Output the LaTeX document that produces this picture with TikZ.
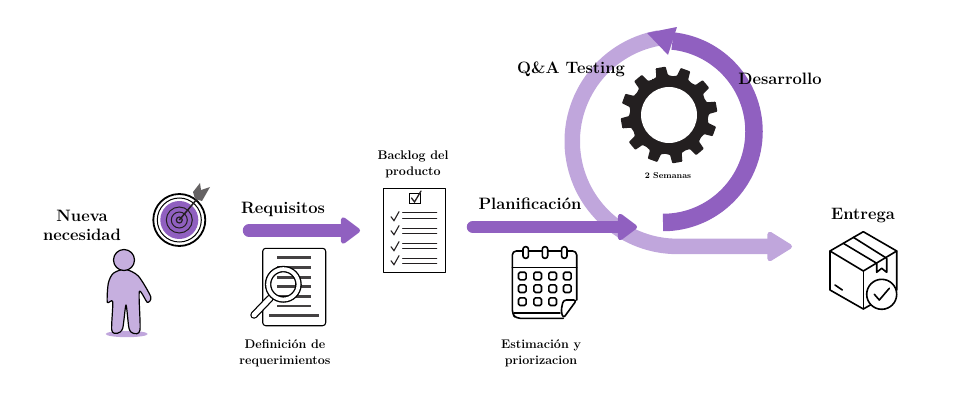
\documentclass[tikz,border=0pt]{standalone}
\usepackage{fontspec}
\usepackage{xcolor}
\usetikzlibrary{arrows.meta}
\definecolor{softpurple}{HTML}{9060C0}
\definecolor{softlilac}{HTML}{C0A6DC}
\definecolor{softink}{HTML}{231F20}

\begin{document}
\begin{tikzpicture}[
  x=1pt, y=-1pt,
  big/.style={font=\bfseries\fontsize{16.5}{19}\selectfont\addfontfeature{LetterSpace=5}, align=center, inner sep=0pt, text=black},
  small/.style={font=\bfseries\fontsize{12.5}{16}\selectfont\addfontfeature{LetterSpace=6}, align=center, inner sep=0pt, text=black},
  flow/.style={line width=12.5pt, line cap=round, softpurple,
               -{Triangle[round, line width=5pt, length=21pt, width=30pt]}},
  ret/.style={line width=15.5pt, softlilac},
  icon/.style={draw=black, line width=1.6pt, line join=round, line cap=round},
  thin/.style={draw=softink, line width=1.4pt, line cap=round}
]
  \useasboundingbox (0,0) rectangle (960,403);

  % spiral
  \coordinate (backtop) at (659,38);
  \coordinate (backend) at (792,246.5);
  \coordinate (devstart) at (663,222.5);
  \draw[ret, -{Triangle[round, line width=5pt, length=27pt, width=32pt]}]
    (backtop) arc[start angle=-100, end angle=-270, radius=105] -- (backend);
  \draw[line width=17.5pt, softpurple] (devstart) arc[start angle=90, end angle=-84, radius=91];
  \fill[softpurple, rounded corners=0.5pt] (647,33) -- (677,27) -- (668,55) -- cycle;

  % flow arrows
  \coordinate (reqstart) at (249,230.5);
  \coordinate (reqend) at (360,230.5);
  \coordinate (planstart) at (473,227);
  \coordinate (planend) at (637,227);
  \draw[flow] (reqstart) -- (reqend);
  \draw[flow] (planstart) -- (planend);

  % gear
  \begin{scope}[shift={(669,115)}]
    \fill[softink, rounded corners=0.8pt] (-115:39)
      \foreach \a in {-100,-70,...,230} {
        -- (\a-8.5:40) -- (\a-6:48.5) -- (\a+6:48.5) -- (\a+8.5:40) -- (\a+15:39)
      } -- cycle;
    \fill[white] (0,0) circle[radius=28];
  \end{scope}

  % person
  \fill[softlilac] (126.7,334) ellipse[x radius=21, y radius=3.2];
  \draw[icon, fill=softlilac!90!white, line width=1.2pt] plot[smooth cycle, tension=0.45] coordinates {
    (125,269.3) (138.3,276) (150.7,296.7) (147.3,302.3) (139.3,291.7) (140,330) (133.3,333.3)
    (129,328.3) (126,305) (122.7,328.3) (117.3,333.3) (111.7,330) (112.7,301.7) (107.3,302.3)
    (108.3,283.3) (113.3,273.3)};
  \draw[icon, fill=softlilac!90!white, line width=1.2pt] (124,260) circle[radius=10.5];

  % target
  \fill[softpurple] (179.3,220) circle[radius=19];
  \draw[line width=1.8pt] (179.3,220) circle[radius=26];
  \draw[line width=1pt] (179.3,220) circle[radius=22];
  \foreach \r in {13,8} \draw[line width=1pt, softink] (179.3,220) circle[radius=\r];
  \draw[line width=1.2pt, softink] (179.3,220) circle[radius=3];
  \draw[line width=1.5pt, softink] (179.3,220) -- (197,199);
  \fill[softink!70!white] (195,199) -- (193,192) -- (200,183) -- (201,190) -- (210,187) -- (206,194) -- (202,201) -- cycle;

  % document and magnifier
  \draw[icon, line width=1.1pt, rounded corners=3pt] (262.7,248.3) rectangle (325.7,325.7);
  \foreach \y in {257.7,267.7,277.3,286.7,296.3,306}
    \draw[softink!85!white, line width=2.6pt] (277.3,\y) -- (311,\y);
  \draw[softink!85!white, line width=2.6pt] (269.3,315.7) -- (319,315.7);
  \draw[line width=7.5pt, line cap=round] (270,298.3) -- (254,315);
  \draw[line width=5pt, line cap=round, white] (270,298.3) -- (254,315);
  \draw[line width=6.5pt] (283.3,284.3) circle[radius=15.2];
  \draw[line width=3.8pt, white] (283.3,284.3) circle[radius=15.2];

  % checklist
  \draw[icon, line width=1.2pt, line cap=butt] (383.3,188.3) rectangle (445.7,272.3);
  \draw[line width=1pt] (409,194) rectangle (420,203.3);
  \draw[thin, line width=1.3pt] (411.5,198) -- (414.5,202) -- (421,191);
  \foreach \y/\c in {212.7/216.7,228.3/230.7,243.3/246.7,258.3/260.7} {
    \draw[thin, line width=1.1pt] (402.7,\y) -- (436.7,\y);
    \draw[thin, line width=1.1pt] (402.7,\y+5.5) -- (436.7,\y+5.5);
    \draw[thin, line width=1.1pt] (391,\c) -- (394,\c+4) -- (399,\c-5);
  }

  % calendar
  \draw[icon, rounded corners=4pt] (563.3,318.3) -- (516,318.3) -- (512.3,314) -- (512.3,251) -- (576.7,251) -- (576.7,300);
  \draw[icon] (512.3,267.3) -- (576.7,267.3);
  \draw[icon] (514,312.7) -- (560,312.7);
  \draw[icon, rounded corners=3pt] (576.7,300) -- (563.3,300) -- (561,311) -- (563.3,318.3) -- cycle;
  \foreach \x in {525.7,545,564.3}
    \draw[icon, fill=white, rounded corners=2.4pt] (\x-2.7,246.7) rectangle (\x+2.7,258.3);
  \foreach \x in {522.3,537.7,552.7,567.3} \foreach \y in {276,288.7}
    \draw[icon, rounded corners=1.5pt] (\x-3.8,\y-3.8) rectangle (\x+3.8,\y+3.8);
  \foreach \x in {522.3,537.7,552.7}
    \draw[icon, rounded corners=1.5pt] (\x-3.8,297.9) rectangle (\x+3.8,305.5);

  % parcel
  \draw[icon] (863.3,231.7) -- (830,251) -- (830,290) -- (863.3,309) -- (896.7,290) -- (896.7,251) -- cycle;
  \draw[icon] (830,251) -- (863.3,271) -- (896.7,251);
  \draw[icon] (863.3,271) -- (863.3,309);
  \draw[icon] (843.3,243.3) -- (876.7,263.3) -- (876.7,272.3) -- (881.7,268.3) -- (886.7,272.3) -- (886.7,258.3) -- (853.3,237.3);
  \draw[icon] (835,285) -- (842.3,290);
  \draw[icon, fill=white] (881.7,294.3) circle[radius=15];
  \draw[icon] (874.3,294.3) -- (879.3,300) -- (889.3,288.3);

  % labels
  \node[big] (need) at (82,225.5) {Nueva\\necesidad};
  \node[big] (req) at (283,209) {Requisitos};
  \node[small] (def) at (285,353.5) {Definición de\\requerimientos};
  \node[small] (backlog) at (413,164) {Backlog del\\producto};
  \node[big] (plan) at (530,204) {Planificación};
  \node[small] (est) at (541,353) {Estimación y\\priorizacion};
  \node[big] (qa) at (571,69) {Q\&A Testing};
  \node[big] (dev) at (780,79) {Desarrollo};
  \node[font=\bfseries\fontsize{8.5}{10}\selectfont\addfontfeature{LetterSpace=6}, inner sep=0pt] (weeks) at (668,176) {2 Semanas};
  \node[big] (deliver) at (863,216) {Entrega};
\end{tikzpicture}
\end{document}
